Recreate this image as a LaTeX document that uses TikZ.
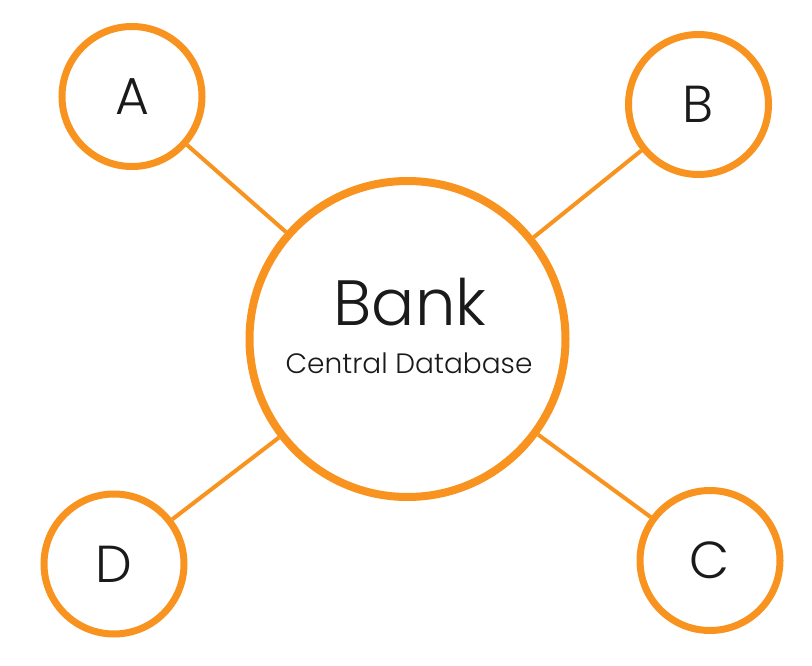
\documentclass[tikz,border=0pt]{standalone}
\usepackage{fontspec}
\setmainfont{Poppins Light}
\definecolor{orng}{HTML}{F7931E}
\definecolor{ink}{HTML}{1A1A1A}
\tikzset{
  leaf/.style={circle,draw=orng,line width=7pt,fill=white,minimum size=140pt,inner sep=0pt,text=ink,font=\fontsize{52}{60}\selectfont},
  hub/.style={circle,draw=orng,line width=8pt,fill=white,minimum size=316pt,inner sep=0pt},
  link/.style={draw=orng,line width=4pt},
  lbl/.style={anchor=base,text=ink,inner sep=0pt}
}
\begin{document}
\begin{tikzpicture}[x=1pt,y=-1pt]
\useasboundingbox (0,0) rectangle (812,666);
\node[hub] (bankc) at (407.5,339) {};
\node[leaf] (a) at (132,96.5) {A};
\node[leaf] (b) at (698.5,104.5) {B};
\node[leaf] (d) at (114,564) {D};
\node[leaf] (c) at (710,560.5) {C};
\node[lbl,font=\fontsize{64}{70}\selectfont] (bank) at (410,325) {Bank};
\node[lbl,font=\fontsize{28}{32}\selectfont] (cdb) at (409,373) {Central Database};
\draw[link] (a) -- (bankc);
\draw[link] (b) -- (bankc);
\draw[link] (d) -- (bankc);
\draw[link] (c) -- (bankc);
\end{tikzpicture}
\end{document}
